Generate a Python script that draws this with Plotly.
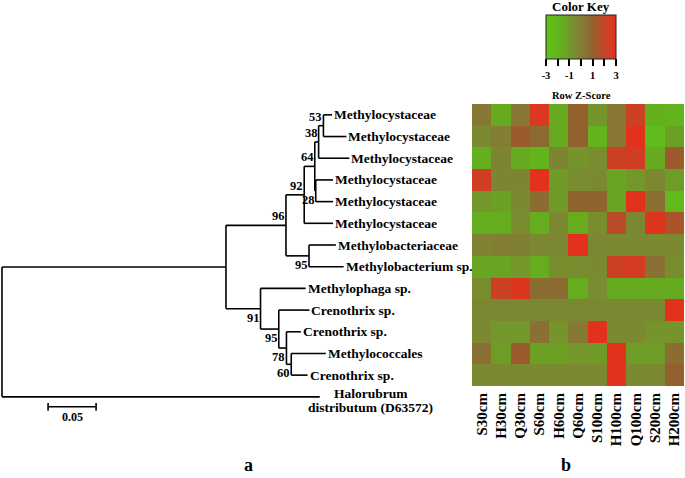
import plotly.graph_objects as go

W, H = 685, 478
FONT = "Liberation Serif"

# ---------------- data ----------------
taxa = [
    "Methylocystaceae", "Methylocystaceae", "Methylocystaceae",
    "Methylocystaceae", "Methylocystaceae", "Methylocystaceae",
    "Methylobacteriaceae", "Methylobacterium sp.", "Methylophaga sp.",
    "Crenothrix sp.", "Crenothrix sp.", "Methylococcales", "Crenothrix sp.",
    "Halorubrum<br>distributum (D63572)",
]

# internal node: (bootstrap, branch_length, [children]); leaf: (taxon_index, branch_length)
tree = (None, 0.0, [
    (None, 0.2333, [
        (96, 0.0625, [
            (92, 0.019, [
                (64, 0.011, [
                    (38, 0.004, [
                        (53, 0.005, [(0, 0.009), (1, 0.024)]),
                        (2, 0.032),
                    ]),
                    (28, 0.001, [(3, 0.018), (4, 0.018)]),
                ]),
                (5, 0.030),
            ]),
            (95, 0.024, [(6, 0.028), (7, 0.036)]),
        ]),
        (91, 0.036, [
            (8, 0.047),
            (95, 0.019, [
                (9, 0.032),
                (78, 0.008, [
                    (10, 0.015),
                    (60, 0.005, [(11, 0.036), (12, 0.017)]),
                ]),
            ]),
        ]),
    ]),
    (13, 0.331),
])

samples = ["S30cm", "H30cm", "Q30cm", "S60cm", "H60cm", "Q60cm",
           "S100cm", "H100cm", "Q100cm", "S200cm", "H200cm"]

zscore = [
    [0.3, -1.5, 0.3, 2.7, -1.5, 1.0, -0.8, 0.3, 2.2, -1.8, -2.0],
    [-0.5, 0.0, 1.2, 0.7, -1.5, 1.0, -2.0, 0.3, 3.0, -2.5, -1.2],
    [-1.8, -0.3, -1.5, -2.0, -0.3, -0.8, -0.6, 2.3, 2.4, -1.5, 1.2],
    [2.4, -0.3, -0.3, 3.0, -1.0, -0.6, -0.5, -1.3, -0.9, -0.4, -1.1],
    [-0.9, -1.2, -0.5, 0.6, -1.0, 0.9, 0.9, -1.3, 3.0, 0.5, -2.3],
    [-1.6, -1.6, -0.6, -1.6, -0.5, -1.7, -0.6, 1.8, -0.4, 2.8, 1.5],
    [-0.2, 0.0, -0.1, -0.4, -0.4, 3.0, -0.4, -0.5, -0.5, -0.5, -0.5],
    [-1.3, -1.3, -0.9, -1.6, -0.6, -0.6, -0.5, 2.3, 2.5, 0.5, -0.6],
    [-0.6, 2.2, 2.8, 0.6, 0.6, -1.6, -0.6, -1.5, -1.5, -1.5, -1.5],
    [-0.4, -0.4, -0.4, -0.4, -0.4, -0.4, -0.4, -0.4, -0.4, -0.4, 3.0],
    [-0.5, -0.9, -0.9, 0.5, -0.8, 0.2, 3.0, -0.5, -0.5, -0.8, -0.8],
    [0.5, -1.1, 1.2, -1.2, -1.2, -0.9, -1.0, 3.0, -1.1, -1.1, 0.6],
    [-0.5, -0.5, -0.5, -0.5, -0.5, -0.5, -0.5, 3.0, -0.5, -0.5, 1.0],
]

key_ticks = [-3, -2, -1, 0, 1, 2, 3]
key_labels = ["-3", "", "-1", "", "1", "", "3"]
scale_bar_value = 0.05

colorscale = [
    [0.0, "#5ec418"], [0.25, "#66aa20"], [0.4167, "#7b8a31"],
    [0.55, "#877634"], [0.6667, "#92612e"], [0.8333, "#c44526"],
    [1.0, "#e3321c"],
]

# ---------------- geometry (pixels -> paper) ----------------
hm_left, hm_right, hm_top, hm_bottom = 472, 684, 104, 386
n_rows = len(zscore)
pitch = (hm_bottom - hm_top) / n_rows
tree_y_range = [n_rows - 0.5 + (H - hm_bottom) / pitch, -0.5 - hm_top / pitch]
px_per_unit = 960.0
root_px = 2.0
tree_x_range = [-root_px / px_per_unit, (hm_left - root_px) / px_per_unit]

# ---------------- tree layout ----------------
seg_x, seg_y = [], []
leaves, boots = [], []


def seg(x0, y0, x1, y1):
    seg_x.extend([x0, x1, None])
    seg_y.extend([y0, y1, None])


def place(node, px, order):
    if len(node) == 2:
        idx, bl = node
        x = px + bl
        seg(px, idx, x, idx)
        leaves.append((x, idx))
        return idx
    bs, bl, kids = node
    x = px + bl
    ys = [place(k, x, i) for i, k in enumerate(kids)]
    y = (ys[0] + ys[-1]) / 2.0
    if bl > 0:
        seg(px, y, x, y)
    seg(x, ys[0], x, ys[-1])
    if bs is not None:
        boots.append((x, y, bs, order))
    return y


place(tree, 0.0, 0)

fig = go.Figure()
fig.add_trace(go.Scatter(
    x=seg_x, y=seg_y, mode="lines", line=dict(color="black", width=1.6),
    xaxis="x", yaxis="y", hoverinfo="skip", showlegend=False))

# scale bar
sb_x0 = 0.048
sb_y = 13.46
sb_t = 0.18
fig.add_trace(go.Scatter(
    x=[sb_x0, sb_x0 + scale_bar_value, None, sb_x0, sb_x0, None,
       sb_x0 + scale_bar_value, sb_x0 + scale_bar_value],
    y=[sb_y, sb_y, None, sb_y - sb_t, sb_y + sb_t, None, sb_y - sb_t, sb_y + sb_t],
    mode="lines", line=dict(color="black", width=1.6),
    xaxis="x", yaxis="y", hoverinfo="skip", showlegend=False))

# heatmap
fig.add_trace(go.Heatmap(
    z=zscore, x=list(range(len(samples))), y=list(range(n_rows)),
    xaxis="x2", yaxis="y2", zmin=-3, zmax=3, colorscale=colorscale,
    hoverinfo="skip",
    colorbar=dict(
        orientation="h", x=581 / W, xanchor="center", y=1 - 15 / H,
        yanchor="top", lenmode="pixels", len=70, thicknessmode="pixels",
        thickness=44, outlinecolor="#222", outlinewidth=1, ticks="outside",
        ticklen=7, tickwidth=1.5, tickcolor="black", tickvals=key_ticks,
        ticktext=["<b>%s</b>" % t if t else "" for t in key_labels],
        tickfont=dict(family=FONT, size=10.5, color="black"), xpad=0, ypad=0),
))

annotations = []
for x, idx in leaves:
    if idx == len(taxa) - 1:
        lines = taxa[idx].split("<br>")
        for k, line in enumerate(lines):
            annotations.append(dict(
                x=x, y=idx, xref="x", yref="y", text="<b>%s</b>" % line,
                showarrow=False, xanchor="center", yanchor="middle",
                xshift=51, yshift=3 - 14 * k,
                font=dict(family=FONT, size=13.5, color="black")))
    else:
        annotations.append(dict(
            x=x, y=idx, xref="x", yref="y", text="<b>%s</b>" % taxa[idx],
            showarrow=False, xanchor="left", yanchor="middle", xshift=0,
            font=dict(family=FONT, size=13.5, color="black")))

for x, y, bs, order in boots:
    annotations.append(dict(
        x=x, y=y, xref="x", yref="y", text="<b>%d</b>" % bs, showarrow=False,
        xanchor="right", yanchor="bottom" if order == 0 else "top",
        xshift=1, font=dict(family=FONT, size=12.5, color="black")))

annotations.append(dict(
    x=sb_x0 + scale_bar_value / 2, y=sb_y, xref="x", yref="y",
    text="<b>0.05</b>", showarrow=False, xanchor="center", yanchor="top",
    yshift=-1, font=dict(family=FONT, size=12, color="black")))

annotations += [
    dict(x=581 / W, y=1 - 7 / H, xref="paper", yref="paper",
         text="<b>Color Key</b>", showarrow=False, xanchor="center",
         yanchor="middle", font=dict(family=FONT, size=13, color="black")),
    dict(x=581 / W, y=1 - 95 / H, xref="paper", yref="paper",
         text="<b>Row Z-Score</b>", showarrow=False, xanchor="center",
         yanchor="middle", font=dict(family=FONT, size=10.5, color="black")),
    dict(x=248 / W, y=1 - 465 / H, xref="paper", yref="paper",
         text="<b>a</b>", showarrow=False, xanchor="center",
         yanchor="middle", font=dict(family=FONT, size=18, color="black")),
    dict(x=566 / W, y=1 - 465 / H, xref="paper", yref="paper",
         text="<b>b</b>", showarrow=False, xanchor="center",
         yanchor="middle", font=dict(family=FONT, size=18, color="black")),
]

fig.update_layout(
    width=W, height=H, margin=dict(l=0, r=0, t=0, b=0),
    paper_bgcolor="white", plot_bgcolor="white", showlegend=False,
    xaxis=dict(domain=[0, hm_left / W], range=tree_x_range, visible=False,
               fixedrange=True),
    yaxis=dict(domain=[0, 1], range=tree_y_range, visible=False,
               fixedrange=True),
    xaxis2=dict(domain=[hm_left / W, hm_right / W], range=[-0.5, len(samples) - 0.5],
                anchor="y2", tickmode="array", tickvals=list(range(len(samples))),
                ticktext=["<b>%s</b>" % s for s in samples], tickangle=-90,
                ticks="", showgrid=False, zeroline=False, showline=False,
                tickfont=dict(family=FONT, size=15, color="black"),
                ticklabelstandoff=3, fixedrange=True),
    yaxis2=dict(domain=[1 - hm_bottom / H, 1 - hm_top / H], range=[n_rows - 0.5, -0.5],
                anchor="x2", visible=False, fixedrange=True),
    annotations=annotations,
)

fig.write_html("out.html", config={"displayModeBar": False},
               post_script="document.body.style.margin='0';document.body.style.overflow='hidden';")
